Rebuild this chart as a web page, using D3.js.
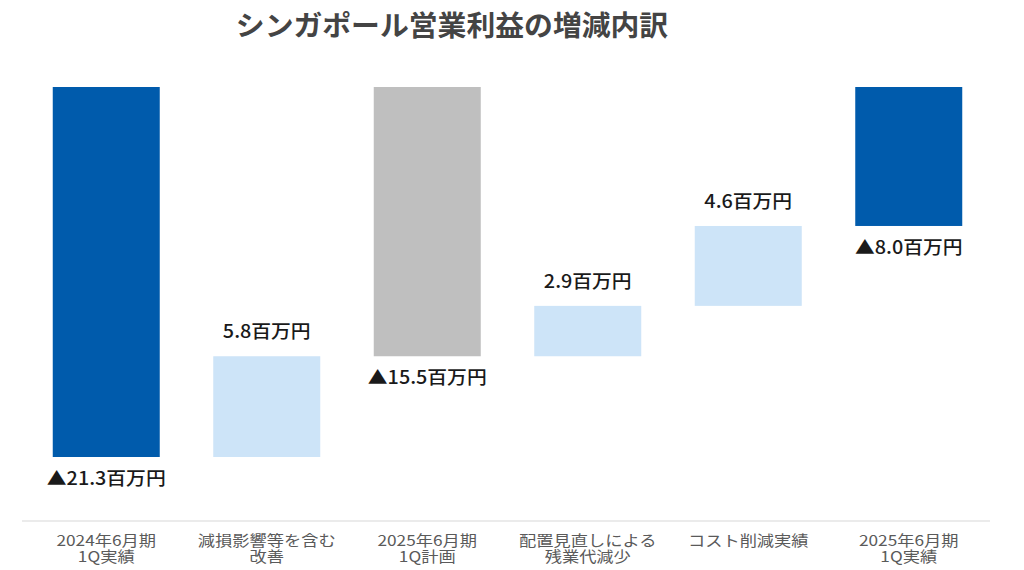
<!DOCTYPE html>
<html><head><meta charset="utf-8">
<script src="https://cdn.jsdelivr.net/npm/d3@7"></script>
<style>body{margin:0;background:#fff}svg{display:block}</style>
</head><body>
<svg id="c" width="1024" height="570"></svg>
<script>
const categories = [["2024年6月期","1Q実績"],["減損影響等を含む","改善"],["2025年6月期","1Q計画"],["配置見直しによる","残業代減少"],["コスト削減実績"],["2025年6月期","1Q実績"]];
const values = [-21.3, 5.8, -15.5, 2.9, 4.6, -8.0];
const kinds = ["total","delta","total","delta","delta","total"];
const valueLabels = ["▲21.3百万円","5.8百万円","▲15.5百万円","2.9百万円","4.6百万円","▲8.0百万円"];
const colors = {total:"#005BAC", plan:"#BFBFBF", delta:"#CDE4F8"};
const title = "シンガポール営業利益の増減内訳";

const svg = d3.select("#c");
const x = d3.scaleBand().domain(d3.range(values.length)).range([26, 989]).paddingInner(1/3).paddingOuter(1/6);
const y = d3.scaleLinear().domain([-21.3, 0]).range([457, 87]);

let running = 0;
const segs = values.map((v, i) => {
  let y0, y1;
  if (kinds[i] === "total") { y0 = 0; y1 = v; running = v; }
  else { y0 = running; y1 = running + v; running = y1; }
  return {i, v, y0, y1, kind: kinds[i]};
});

const font = "'Noto Sans CJK JP','Noto Sans',sans-serif";

svg.append("text").attr("transform", "translate(452,36) scale(1.03,1)").attr("text-anchor","middle")
  .attr("font-family", font).attr("font-weight", "bold").attr("font-size", 28)
  .attr("fill", "#444444").text(title);

svg.selectAll("rect.bar").data(segs).join("rect").attr("class","bar")
  .attr("x", d => x(d.i)).attr("width", x.bandwidth())
  .attr("y", d => y(Math.max(d.y0, d.y1)))
  .attr("height", d => Math.abs(y(d.y0) - y(d.y1)))
  .attr("fill", d => d.kind === "delta" ? colors.delta : (d.i === 2 ? colors.plan : colors.total));

svg.selectAll("text.val").data(segs).join("text").attr("class","val")
  .attr("transform", d => {
    const cx = x(d.i) + x.bandwidth()/2;
    const ty = d.v < 0 ? y(Math.min(d.y0, d.y1)) + 28 : y(Math.max(d.y0, d.y1)) - 18;
    return `translate(${cx},${ty}) scale(1.1,1)`;
  })
  .attr("text-anchor","middle").attr("font-family", font).attr("font-weight", 500)
  .attr("font-size", 18).attr("fill", "#1a1a1a")
  .text((d, i) => valueLabels[i]);

svg.append("line").attr("x1", 22).attr("x2", 990).attr("y1", 521).attr("y2", 521)
  .attr("stroke", "#E5E5E5").attr("stroke-width", 1.5);

const cat = svg.selectAll("g.cat").data(categories).join("g").attr("class","cat")
  .attr("transform", (d, i) => `translate(${x(i) + x.bandwidth()/2},0)`);
cat.selectAll("text").data(d => d).join("text")
  .attr("transform", (d, j) => `translate(0,${545.5 + j * 16}) scale(1.15,1)`)
  .attr("text-anchor","middle").attr("font-family", font)
  .attr("font-size", 15).attr("fill", "#5a5a5a").text(d => d);
</script>
</body></html>
